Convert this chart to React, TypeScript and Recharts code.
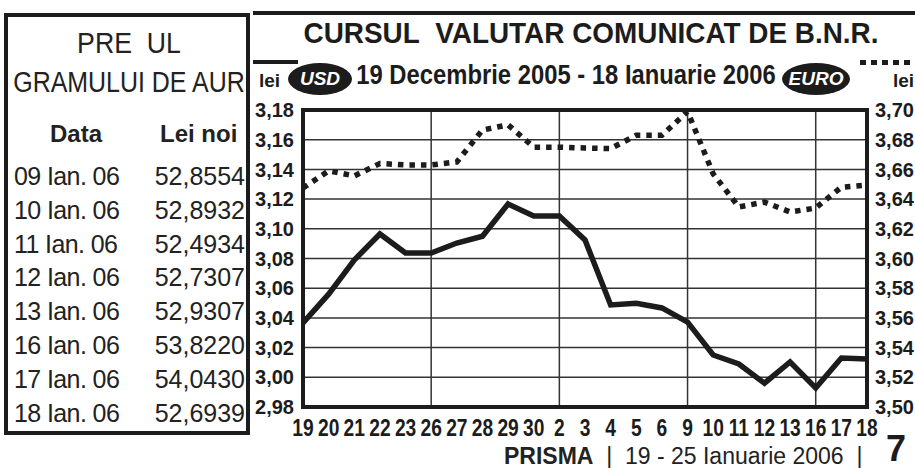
import React from 'react';
import { LineChart, Line, XAxis, YAxis, CartesianGrid, ReferenceLine } from 'recharts';

// trading days, 19 Dec 2005 - 18 Jan 2006
const dates = ['19', '20', '21', '22', '23', '26', '27', '28', '29', '30', '2', '3', '4', '5', '6', '9', '10', '11', '12', '13', '16', '17', '18'];
const usd = [3.0366, 3.056, 3.079, 3.0965, 3.0837, 3.0837, 3.0904, 3.095, 3.1167, 3.1086, 3.1086, 3.0925, 3.0487, 3.0499, 3.0467, 3.0372, 3.015, 3.009, 2.996, 3.0103, 2.9928, 3.013, 3.0123];
const euro = [3.6475, 3.659, 3.6556, 3.664, 3.663, 3.663, 3.665, 3.6865, 3.69, 3.675, 3.675, 3.6744, 3.674, 3.683, 3.683, 3.699, 3.657, 3.6347, 3.638, 3.6313, 3.634, 3.648, 3.6495];
const usdTicks = [2.98, 3.0, 3.02, 3.04, 3.06, 3.08, 3.1, 3.12, 3.14, 3.16, 3.18];
const euroTicks = [3.5, 3.52, 3.54, 3.56, 3.58, 3.6, 3.62, 3.64, 3.66, 3.68, 3.7];
const mondays = ['26', '2', '9', '16'];

const goldDates = ['09 Ian. 06', '10 Ian. 06', '11 Ian. 06', '12 Ian. 06', '13 Ian. 06', '16 Ian. 06', '17 Ian. 06', '18 Ian. 06'];
const goldPrices = ['52,8554', '52,8932', '52,4934', '52,7307', '52,9307', '53,8220', '54,0430', '52,6939'];

const data = dates.map((d, i) => ({ day: d, usd: usd[i], euro: euro[i] }));

const INK = '#1c1c1c';
const sans = '"Liberation Sans", Arial, sans-serif';

const fmt = (v: number) => v.toFixed(2).replace('.', ',');

const abs = (x: number, y: number, extra: React.CSSProperties = {}): React.CSSProperties => ({
  position: 'absolute',
  left: x,
  top: y,
  ...extra,
});

// text centred on cx, squeezed horizontally (the print uses a condensed face)
const centred = (cx: number, y: number, sx: number, extra: React.CSSProperties = {}): React.CSSProperties =>
  abs(cx, y, {
    transform: `translateX(-50%) scaleX(${sx})`,
    whiteSpace: 'nowrap',
    ...extra,
  });

const DayTick = ({ x, y, payload }: any) => (
  <g transform={`translate(${x},${y})`}>
    <text
      transform="scale(0.8,1)"
      textAnchor="middle"
      dy={21}
      fill={INK}
      fontSize={24}
      fontWeight={700}
      fontFamily={sans}
    >
      {payload.value}
    </text>
  </g>
);

const Oval = ({ x, y, w, label }: { x: number; y: number; w: number; label: string }) => (
  <div
    style={abs(x, y, {
      width: w,
      height: 32,
      borderRadius: '50%',
      background: INK,
      color: '#fff',
      fontFamily: sans,
      fontWeight: 700,
      fontStyle: 'italic',
      fontSize: 19,
      lineHeight: '32px',
      textAlign: 'center',
    })}
  >
    {label}
  </div>
);

const GoldTable = () => (
  <div
    style={abs(4, 13, {
      width: 246,
      height: 422,
      border: `4px solid ${INK}`,
      boxSizing: 'border-box',
      fontFamily: sans,
      color: '#222',
    })}
  >
    <div style={centred(121, 10, 0.92, { fontSize: 29, lineHeight: '32px' })}>PRE&nbsp;&nbsp;UL</div>
    <div style={centred(121, 49, 0.86, { fontSize: 29, lineHeight: '32px' })}>GRAMULUI DE AUR</div>
    <div style={abs(42, 103, { fontSize: 24, fontWeight: 700, lineHeight: '28px' })}>Data</div>
    <div style={abs(152, 103, { fontSize: 24, fontWeight: 700, lineHeight: '28px' })}>Lei noi</div>
    {goldDates.map((d, i) => (
      <React.Fragment key={d}>
        <div style={abs(6, 144 + i * 33.8, { fontSize: 25, lineHeight: '30px', letterSpacing: -0.6, whiteSpace: 'nowrap' })}>{d}</div>
        <div style={abs(0, 144 + i * 33.8, { width: 237, textAlign: 'right', fontSize: 25, lineHeight: '30px' })}>{goldPrices[i]}</div>
      </React.Fragment>
    ))}
  </div>
);

const App = () => {
  return (
    <div style={{ position: 'absolute', left: 0, top: 0, width: 915, height: 468, background: '#fff', overflow: 'hidden' }}>
      <GoldTable />

      {/* header rules and titles */}
      <div style={abs(253, 11, { width: 662, height: 4, background: INK })} />
      <div style={centred(591, 16, 0.93, { fontFamily: sans, fontWeight: 700, fontSize: 30, lineHeight: '34px', color: INK })}>
        CURSUL&nbsp;&nbsp;VALUTAR COMUNICAT DE B.N.R.
      </div>
      <div style={abs(253, 60, { width: 45, height: 4, background: INK })} />
      <div style={abs(860, 60, { width: 55, height: 5, backgroundImage: `repeating-linear-gradient(90deg, ${INK} 0 6px, transparent 6px 11px)` })} />
      <div style={abs(259, 69, { fontFamily: sans, fontWeight: 700, fontSize: 19, lineHeight: '24px', color: INK })}>lei</div>
      <div style={abs(893, 69, { fontFamily: sans, fontWeight: 700, fontSize: 19, lineHeight: '24px', color: INK })}>lei</div>
      <Oval x={288} y={63} w={64} label="USD" />
      <Oval x={782} y={63} w={68} label="EURO" />
      <div style={centred(566, 59, 0.85, { fontFamily: sans, fontWeight: 700, fontSize: 28, lineHeight: '32px', color: INK })}>
        19 Decembrie 2005 - 18 Ianuarie 2006
      </div>

      <div style={abs(0, 0)}>
        <LineChart width={915} height={468} data={data} margin={{ top: 110, right: 0, left: 253, bottom: 31 }}>
          <CartesianGrid yAxisId="usd" vertical={false} stroke="#333" strokeWidth={1.5} />
          <XAxis dataKey="day" height={30} axisLine={false} tickLine={false} interval={0} tick={<DayTick />} />
          <YAxis
            yAxisId="usd"
            width={50}
            domain={[2.98, 3.18]}
            ticks={usdTicks}
            allowDataOverflow
            axisLine={false}
            tickLine={false}
            tickFormatter={fmt}
            tick={{ fill: INK, fontSize: 20, fontWeight: 700, fontFamily: sans }}
            tickMargin={3}
          />
          <YAxis
            yAxisId="euro"
            orientation="right"
            width={48}
            domain={[3.5, 3.7]}
            ticks={euroTicks}
            allowDataOverflow
            axisLine={false}
            tickLine={false}
            tickFormatter={fmt}
            tick={{ fill: INK, fontSize: 20, fontWeight: 700, fontFamily: sans, textAnchor: 'start' }}
            tickMargin={2}
          />
          {mondays.map((m) => (
            <ReferenceLine key={m} x={m} yAxisId="usd" stroke="#333" strokeWidth={1.5} />
          ))}
          <Line yAxisId="euro" type="linear" dataKey="euro" stroke={INK} strokeWidth={5.5} strokeDasharray="5.5 6" dot={false} isAnimationActive={false} />
          <Line yAxisId="usd" type="linear" dataKey="usd" stroke={INK} strokeWidth={5.5} dot={false} isAnimationActive={false} />
        </LineChart>
      </div>

      {/* plot frame */}
      <div style={abs(301, 108, { width: 568, height: 301, border: `4px solid ${INK}`, boxSizing: 'border-box' })} />

      {/* footer */}
      <div style={abs(504, 444, { fontFamily: sans, fontSize: 23, lineHeight: '24px', color: '#222', whiteSpace: 'nowrap' })}>
        <b>PRISMA</b>&nbsp;&nbsp;|&nbsp;&nbsp;19 - 25 Ianuarie 2006&nbsp;&nbsp;|
      </div>
      <div style={abs(886, 431, { fontFamily: sans, fontWeight: 700, fontSize: 36, lineHeight: '36px', color: INK })}>7</div>
    </div>
  );
};

export default App;
